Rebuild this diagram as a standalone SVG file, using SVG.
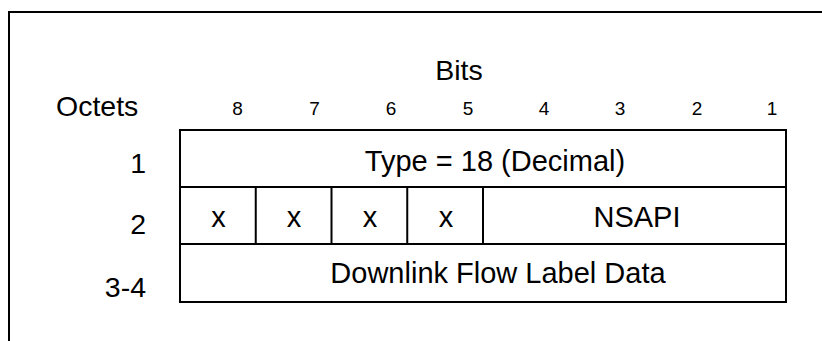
<svg xmlns="http://www.w3.org/2000/svg" width="822" height="341" viewBox="0 0 822 341">
<style>
text{font-family:"Liberation Sans",Arial,sans-serif;fill:#000}
.lbl{font-size:28.5px}
.bit{font-size:19px;text-anchor:middle}
.cell{font-size:29px;text-anchor:middle}
.ln{stroke:#000;stroke-width:2;fill:none}
</style>
<rect width="822" height="341" fill="#fff"/>
<path class="ln" d="M9,341 V12 H822"/>
<g id="header">
<text class="lbl" x="459" y="80" text-anchor="middle">Bits</text>
<text class="lbl" x="56" y="116">Octets</text>
<text class="bit" x="237.5" y="115">8</text>
<text class="bit" x="314.5" y="115">7</text>
<text class="bit" x="391" y="115">6</text>
<text class="bit" x="468" y="115">5</text>
<text class="bit" x="544" y="115">4</text>
<text class="bit" x="620" y="115">3</text>
<text class="bit" x="697" y="115">2</text>
<text class="bit" x="772" y="115">1</text>
</g>
<g id="row-labels">
<text class="lbl" x="146" y="173" text-anchor="end">1</text>
<text class="lbl" x="146" y="234" text-anchor="end">2</text>
<text class="lbl" x="146" y="297" text-anchor="end">3-4</text>
</g>
<g id="octet1">
<rect class="ln" x="180" y="130" width="606" height="57"/>
<text class="cell" x="495" y="171">Type = 18 (Decimal)</text>
</g>
<g id="octet2">
<rect class="ln" x="180" y="187" width="606" height="57"/>
<path class="ln" d="M255.75,187 V244 M331.5,187 V244 M407.25,187 V244 M483,187 V244"/>
<text class="cell" x="218.5" y="227">x</text>
<text class="cell" x="294" y="227">x</text>
<text class="cell" x="370" y="227">x</text>
<text class="cell" x="446" y="227">x</text>
<text class="cell" x="637" y="227">NSAPI</text>
</g>
<g id="octet3-4">
<rect class="ln" x="180" y="244" width="606" height="58"/>
<text class="cell" x="498" y="283">Downlink Flow Label Data</text>
</g>
</svg>
